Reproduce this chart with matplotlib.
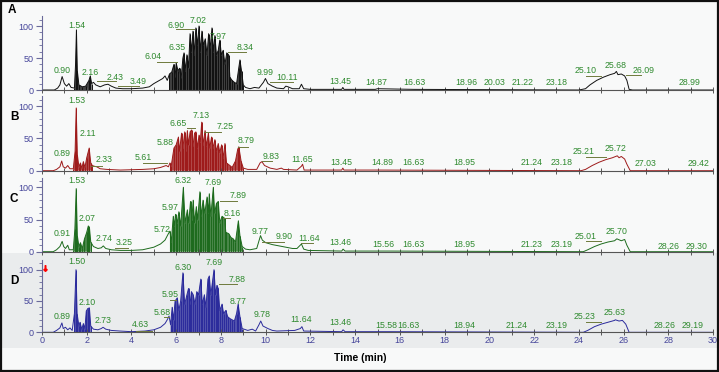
import numpy as np
import matplotlib.pyplot as plt
from matplotlib.patches import Rectangle
from matplotlib.ticker import MultipleLocator

plt.rcParams['font.family'] = ['Liberation Sans', 'DejaVu Sans']

# ---- chromatogram traces (time in min, relative abundance) ----
a_t = [0, 0.55, 0.7, 0.8, 0.9, 1.0, 1.1, 1.2, 1.3, 1.45, 1.5, 1.54, 1.58, 1.65, 1.8, 1.95, 2.1, 2.16, 2.22,
       2.3, 2.4, 2.6, 2.8, 2.95, 3.1, 3.3, 3.6, 4.0, 4.5, 4.8, 5.0, 5.2, 5.4, 5.5, 5.6, 5.7, 5.8, 5.9, 5.95,
       6.0, 6.08, 6.15, 6.22, 6.3, 6.35, 6.4, 6.48, 6.55, 6.62, 6.68, 6.75, 6.8, 6.88, 6.95, 7.02, 7.08,
       7.15, 7.22, 7.3, 7.38, 7.45, 7.52, 7.6, 7.66, 7.73, 7.8, 7.88, 7.95, 8.02, 8.1, 8.18, 8.26, 8.34,
       8.4, 8.5, 8.6, 8.7, 8.8, 8.85, 8.92, 9.0, 9.1, 9.3, 9.5, 9.7, 9.9, 9.99, 10.1, 10.3, 10.5, 10.8,
       10.9, 11.0, 11.2, 11.5, 11.6, 11.7, 12.0, 13.4, 13.45, 13.5, 14.9, 15.0, 16.63, 24.0, 24.3, 24.5,
       24.8, 25.1, 25.4, 25.6, 25.68, 25.75, 25.9, 26.05, 26.15, 26.25, 26.4, 30]
a_y = [0, 0, 3, 8, 21, 10, 6, 10, 4, 3, 40, 94, 30, 8, 5, 6, 15, 22, 10,
       12, 8, 5, 8, 9, 6, 3, 2, 2, 3, 5, 10, 14, 18, 22, 15, 25, 28, 40, 20,
       42, 30, 34, 18, 50, 58, 30, 55, 35, 88, 60, 92, 55, 97, 70, 100, 60,
       92, 70, 80, 55, 88, 65, 97, 60, 85, 55, 62, 78, 55, 62, 40, 58, 55,
       20, 15, 12, 10, 35, 47, 30, 8, 4, 2, 4, 3, 12, 18, 10, 6, 3, 2,
       6, 5, 2, 2, 9, 2, 1, 1, 4, 1, 1, 2, 1, 0, 2, 8,
       15, 20, 24, 26, 29, 24, 25, 22, 15, 1, 0, 0]

b_t = [0, 0.5, 0.65, 0.8, 0.88, 0.95, 1.05, 1.15, 1.25, 1.4, 1.48, 1.53, 1.58, 1.65, 1.72, 1.78, 1.85,
       1.92, 2.0, 2.11, 2.18, 2.25, 2.33, 2.45, 2.6, 2.9, 3.5, 4.5, 5.0, 5.3, 5.55, 5.65, 5.72, 5.78,
       5.9, 6.0, 6.1, 6.15, 6.24, 6.3, 6.38, 6.43, 6.5, 6.55, 6.62, 6.69, 6.75, 6.82, 6.88, 6.95, 7.02,
       7.08, 7.14, 7.2, 7.29, 7.35, 7.44, 7.5, 7.58, 7.64, 7.73, 7.8, 7.88, 7.95, 8.03, 8.1, 8.18, 8.25,
       8.4, 8.5, 8.65, 8.75, 8.8, 8.9, 9.0, 9.2, 9.6, 9.75, 9.83, 9.95, 10.2, 10.5, 10.7, 10.8, 11.4,
       11.6, 11.65, 11.72, 13.4, 13.45, 13.5, 14.9, 24.1, 24.3, 24.6, 24.9, 25.2, 25.5, 25.72, 25.8,
       25.9, 26.05, 26.15, 26.3, 30]
b_y = [0, 0, 2, 6, 15, 6, 4, 8, 3, 3, 30, 97, 25, 6, 12, 4, 14,
       5, 20, 35, 12, 8, 7, 6, 3, 2, 1, 2, 3, 5, 8, 6, 12, 8,
       35, 40, 52, 30, 58, 35, 60, 30, 62, 40, 60, 63, 38, 58, 60, 35, 55,
       45, 75, 40, 62, 38, 58, 35, 52, 35, 48, 30, 42, 28, 40, 20, 42, 12,
       8, 5, 15, 33, 37, 15, 4, 2, 2, 12, 14, 8, 4, 2, 4, 2, 1,
       7, 10, 1, 1, 4, 1, 1, 0, 2, 8, 13, 17, 20, 23, 20,
       22, 18, 10, 0, 0]

c_t = [0, 0.5, 0.65, 0.8, 0.9, 0.97, 1.05, 1.15, 1.22, 1.4, 1.47, 1.53, 1.58, 1.65, 1.72, 1.8, 1.9, 2.0,
       2.07, 2.12, 2.18, 2.3, 2.5, 2.65, 2.74, 2.85, 3.1, 3.5, 4.0, 4.5, 5.0, 5.3, 5.5, 5.65, 5.72, 5.78,
       5.87, 5.92, 5.97, 6.05, 6.12, 6.2, 6.32, 6.4, 6.5, 6.56, 6.64, 6.7, 6.76, 6.82, 6.9, 6.96, 7.06,
       7.12, 7.2, 7.28, 7.38, 7.44, 7.48, 7.55, 7.66, 7.72, 7.8, 7.88, 7.95, 8.05, 8.16, 8.22, 8.35, 8.45,
       8.55, 8.65, 8.78, 8.85, 8.95, 9.1, 9.3, 9.6, 9.77, 9.85, 10.0, 10.3, 10.6, 10.9, 11.2, 11.4, 11.6,
       11.7, 11.9, 13.4, 13.46, 13.55, 15.5, 24.2, 24.4, 24.7, 25.0, 25.3, 25.6, 25.7, 25.9, 26.05, 26.15,
       26.3, 30]
c_y = [0, 0, 3, 8, 16, 8, 5, 10, 3, 3, 35, 98, 25, 8, 14, 5, 20, 30,
       40, 38, 15, 8, 5, 6, 9, 5, 3, 2, 2, 3, 7, 12, 18, 28, 32, 15,
       55, 40, 58, 45, 62, 40, 100, 45, 65, 45, 78, 50, 80, 45, 70, 50, 93,
       55, 80, 60, 85, 60, 90, 55, 100, 60, 75, 78, 45, 55, 52, 30, 28, 22,
       20, 15, 48, 25, 8, 4, 3, 5, 25, 18, 14, 11, 9, 7, 5, 5, 12,
       4, 2, 1, 4, 1, 1, 0, 3, 8, 12, 15, 17, 20, 17, 19, 10,
       0, 0]

d_t = [0, 0.5, 0.65, 0.8, 0.89, 0.95, 1.05, 1.15, 1.25, 1.35, 1.45, 1.52, 1.57, 1.65, 1.7, 1.78, 1.85,
       1.92, 1.98, 2.05, 2.12, 2.18, 2.3, 2.5, 2.65, 2.73, 2.85, 3.1, 3.5, 4.0, 4.6, 5.0, 5.3, 5.5, 5.6,
       5.68, 5.75, 5.82, 5.88, 5.95, 6.05, 6.12, 6.2, 6.3, 6.38, 6.48, 6.55, 6.62, 6.68, 6.76, 6.84, 6.92,
       7.0, 7.1, 7.17, 7.26, 7.33, 7.42, 7.48, 7.55, 7.62, 7.69, 7.76, 7.82, 7.88, 7.95, 8.05, 8.12, 8.22,
       8.3, 8.4, 8.5, 8.6, 8.7, 8.77, 8.85, 8.95, 9.2, 9.4, 9.55, 9.7, 9.78, 9.88, 10.1, 10.3, 10.5, 11.3,
       11.55, 11.62, 11.7, 13.4, 13.46, 13.55, 15.5, 24.2, 24.4, 24.7, 25.0, 25.3, 25.6, 25.63, 25.8,
       25.95, 26.1, 26.25, 30]
d_y = [0, 0, 3, 7, 15, 6, 8, 4, 7, 3, 30, 100, 30, 10, 16, 5, 14,
       6, 34, 38, 39, 10, 5, 4, 6, 8, 5, 3, 2, 1, 2, 4, 8, 14, 20,
       26, 12, 40, 20, 50, 55, 35, 50, 95, 45, 60, 70, 45, 65, 60, 45, 65,
       60, 85, 45, 60, 40, 85, 90, 60, 80, 100, 60, 75, 70, 35, 45, 30, 35,
       25, 22, 20, 18, 30, 45, 25, 6, 3, 5, 2, 12, 18, 10, 6, 3, 2, 3,
       6, 9, 2, 1, 4, 1, 1, 0, 3, 9, 13, 16, 19, 20, 18,
       19, 13, 0, 0]

# ---- peak labels: (retention time text, x, y) ----
a_labels = [("0.90", 0.89, 30), ("1.54", 1.56, 100), ("2.16", 2.16, 28), ("2.43", 3.26, 20),
            ("3.49", 4.3, 14), ("6.04", 4.95, 52), ("6.35", 6.03, 66), ("6.90", 6.0, 101),
            ("7.02", 6.98, 109), ("7.97", 7.88, 83), ("8.34", 9.07, 67), ("9.99", 9.98, 28),
            ("10.11", 10.95, 20), ("13.45", 13.35, 14), ("14.87", 14.93, 11), ("16.63", 16.63, 11),
            ("18.96", 18.95, 11), ("20.03", 20.25, 11), ("21.22", 21.5, 11), ("23.18", 23.0, 11),
            ("25.10", 24.3, 30), ("25.68", 25.65, 39), ("26.09", 26.9, 31), ("28.99", 28.97, 11)]
a_leaders = [(2.46, 3.3, 14), (3.4, 4.33, 6), (5.14, 6.03, 44), (6.0, 6.8, 95), (8.3, 9.1, 60),
             (10.2, 11.2, 13), (24.3, 25.0, 22), (26.1, 26.8, 24)]

b_labels = [("0.89", 0.89, 26), ("1.53", 1.55, 109), ("2.11", 2.07, 58), ("2.33", 2.77, 17),
            ("5.61", 4.53, 20), ("5.88", 5.5, 43), ("6.65", 6.07, 73), ("7.13", 7.1, 86),
            ("7.25", 8.2, 68), ("8.79", 9.12, 46), ("9.83", 10.24, 22), ("11.65", 11.62, 18),
            ("13.45", 13.37, 12), ("14.89", 15.2, 12), ("16.63", 16.6, 12), ("18.95", 18.9, 12),
            ("21.24", 21.9, 12), ("23.18", 23.25, 12), ("25.21", 24.2, 29), ("25.72", 25.66, 34),
            ("27.03", 27.0, 11), ("29.42", 29.37, 11)]
b_leaders = [(2.2, 2.7, 7), (4.53, 5.6, 12), (6.5, 6.85, 66), (7.25, 8.0, 60), (8.75, 9.2, 37),
             (9.83, 10.3, 15), (24.3, 25.2, 21)]

c_labels = [("0.91", 0.89, 29), ("1.53", 1.55, 110), ("2.07", 2.0, 51), ("2.74", 2.77, 20),
            ("3.25", 3.67, 14), ("5.72", 5.37, 35), ("5.97", 5.72, 68), ("6.32", 6.3, 110),
            ("7.69", 7.65, 107), ("7.89", 8.75, 88), ("8.16", 8.5, 60), ("9.77", 9.75, 32),
            ("9.90", 10.83, 23), ("11.64", 11.95, 21), ("13.46", 13.35, 15), ("15.56", 15.25, 11),
            ("16.63", 16.6, 11), ("18.95", 18.9, 11), ("21.23", 21.9, 11), ("23.19", 23.25, 11),
            ("25.01", 24.3, 23), ("25.70", 25.7, 32), ("28.26", 28.0, 8), ("29.30", 29.25, 8)]
c_leaders = [(3.25, 3.85, 6), (7.95, 8.7, 79), (8.1, 8.4, 52), (9.85, 10.8, 15), (11.6, 12.1, 13),
             (24.3, 25.0, 16)]

d_labels = [("0.89", 0.89, 26), ("1.50", 1.55, 113), ("2.10", 2.02, 48), ("2.73", 2.74, 19),
            ("4.63", 4.38, 12), ("5.68", 5.37, 32), ("5.95", 5.72, 60), ("6.30", 6.3, 104),
            ("7.69", 7.7, 111), ("7.88", 8.73, 85), ("8.77", 8.77, 50), ("9.78", 9.85, 29),
            ("11.64", 11.6, 20), ("13.46", 13.35, 16), ("15.58", 15.38, 11), ("16.63", 16.4, 11),
            ("18.94", 18.9, 11), ("21.24", 21.2, 11), ("23.19", 23.0, 11), ("25.23", 24.27, 25),
            ("25.63", 25.6, 31), ("28.26", 27.85, 11), ("29.19", 29.1, 11)]
d_leaders = [(4.2, 4.9, 2), (5.45, 5.68, 25), (5.72, 6.0, 52), (7.9, 8.7, 77), (24.3, 25.0, 17)]

panels = [("A", a_t, a_y, a_labels, a_leaders, "#111111"),
          ("B", b_t, b_y, b_labels, b_leaders, "#9e1a1a"),
          ("C", c_t, c_y, c_labels, c_leaders, "#1d6b1d"),
          ("D", d_t, d_y, d_labels, d_leaders, "#2b2b9c")]

W, H = 719, 372
fig = plt.figure(figsize=(W / 100, H / 100), dpi=100)
fig.patch.set_facecolor("#f8f9f9")

# gray band behind panel D and the outer frame
fig.add_artist(Rectangle((0, 1 - 348 / H), 1, 95 / H, transform=fig.transFigure,
                         facecolor="#eaeced", edgecolor="none", zorder=0))
fig.add_artist(Rectangle((0.002, 0.003), 0.996, 0.994, transform=fig.transFigure,
                         facecolor="none", edgecolor="#111111", lw=1.6, zorder=10))

# pixel geometry of each panel: baseline row and px per unit
bottoms = [90, 170.7, 251.7, 332.3]
scales = [0.64, 0.647, 0.644, 0.626]
ytop = 115
tick_col = "#45459a"
lab_col = "#2f8a2f"

for i, (name, t, y, labels, leaders, col) in enumerate(panels):
    hpx = ytop * scales[i]
    ax = fig.add_axes([42 / W, 1 - bottoms[i] / H, 671 / W, hpx / H])
    ax.set_facecolor("none")
    t = np.array(t)
    y = np.array(y)
    ax.plot(t, y, color=col, lw=0.7)
    dense = ((t >= 1.4) & (t <= 2.25)) | ((t >= 5.7) & (t <= 9.0))
    ax.fill_between(t, 0, y, where=dense, color=col, alpha=0.8, lw=0)
    ax.vlines(t[dense], 0, y[dense], color=col, lw=0.7)
    ax.set_xlim(0, 30)
    ax.set_ylim(0, ytop)
    for s in ["top", "right"]:
        ax.spines[s].set_visible(False)
    ax.spines["left"].set_color("#6a6a9a")
    ax.spines["bottom"].set_color("#555555")
    ax.set_yticks([0, 50, 100])
    ax.yaxis.set_minor_locator(MultipleLocator(10))
    ax.xaxis.set_major_locator(MultipleLocator(2))
    ax.xaxis.set_minor_locator(MultipleLocator(1))
    ax.tick_params(axis="y", which="major", length=4, width=0.8, colors="#6a6a9a",
                   labelcolor=tick_col, labelsize=6.5, pad=2)
    ax.tick_params(axis="y", which="minor", length=2, width=0.6, colors="#6a6a9a")
    ax.tick_params(axis="x", which="both", direction="inout", length=4, width=0.7,
                   colors="#555555", labelcolor=tick_col, labelsize=6.5, pad=1)
    if i < 3:
        ax.tick_params(axis="x", labelbottom=False)
    for txt, xp, yp in labels:
        ax.text(xp, yp, txt, color=lab_col, fontsize=6.3, ha="center", va="center", clip_on=False)
    for x0, x1, yl in leaders:
        ax.plot([x0, x1], [yl, yl], color="#6e7a3c", lw=0.7)
    fig.text(8 / W if i == 0 else 10 / W, 1 - [10, 117, 199, 281][i] / H, name,
             fontsize=8.5, fontweight="bold", ha="left", va="center")
    if name == "D":
        ax.plot([0.15], [102], marker="$\u2193$", color="red", ms=4, clip_on=False)

fig.text(360 / W, 1 - 358 / H, "Time (min)", fontsize=7.5, fontweight="bold",
         ha="center", va="center")

fig.savefig("out.png", dpi=100, facecolor=fig.get_facecolor())
